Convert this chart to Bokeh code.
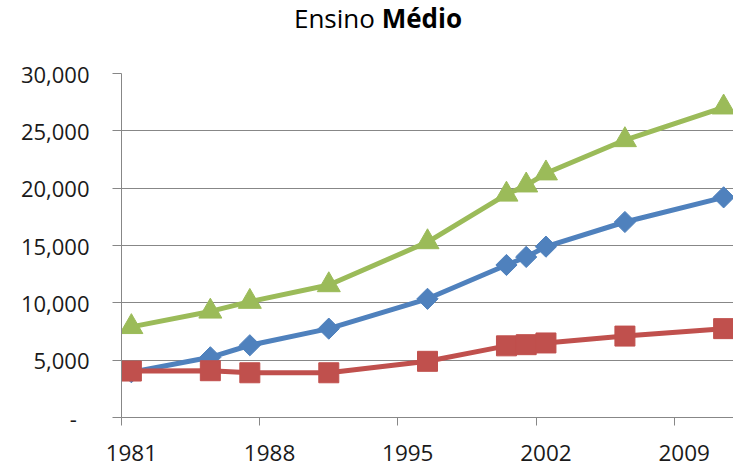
import math
from bokeh.plotting import figure
from bokeh.layouts import column
from bokeh.models import (Range1d, FixedTicker, LinearAxis, NumeralTickFormatter, Div)
from bokeh.embed import file_html
from bokeh.resources import INLINE

# ---- data ----
years = [1981, 1985, 1987, 1991, 1996, 2000, 2001, 2002, 2006, 2011]
serie_azul = [3950, 5250, 6300, 7750, 10350, 13300, 14000, 14900, 17050, 19200]
serie_vermelha = [4050, 4080, 3900, 3900, 4900, 6250, 6350, 6500, 7100, 7750]
serie_verde = [7900, 9250, 10100, 11550, 15300, 19450, 20250, 21300, 24200, 27050]

x_tick_marks = [1980.5, 1987.5, 1994.5, 2001.5, 2008.5]
x_label_years = [1981, 1988, 1995, 2002, 2009]
x_tick_labels = ["1981", "1988", "1995", "2002", "2009"]
y_ticks = [0, 5000, 10000, 15000, 20000, 25000, 30000]

title_parts = ["Ensino", "Médio"]

FONT = "Open Sans"
GRID = "#878787"
BLUE = "#4F81BD"
RED = "#C0504D"
GREEN = "#9BBB59"

TITLE_H = 40

title = Div(
    text=(f'<div style="position:absolute;left:0;top:2px;width:756px;text-align:center;'
          f'font-family:\'{FONT}\';font-size:26px;color:black;white-space:nowrap;line-height:1.3;">'
          f'{title_parts[0]} <b>{title_parts[1]}</b></div>'),
    width=733, height=TITLE_H, margin=(0, 0, 0, 0),
    styles={"position": "relative", "overflow": "visible"})

p = figure(width=733, height=470 - TITLE_H, output_backend="svg", toolbar_location=None,
           x_range=Range1d(1980.5, 2011.5), y_range=Range1d(0, 30000),
           min_border_left=121, min_border_right=0, min_border_top=73 - TITLE_H,
           min_border_bottom=53, margin=(0, 0, 0, 0))
p.outline_line_color = None
p.background_fill_color = "white"
p.border_fill_color = "white"

# y axis
ya = p.yaxis[0]
ya.ticker = FixedTicker(ticks=y_ticks)
ya.formatter = NumeralTickFormatter(format="0,0")
ya.major_label_overrides = {0: "-\u2007"}
ya.major_tick_out = 9
ya.major_tick_in = 0
ya.minor_tick_out = 0
ya.minor_tick_in = 0
ya.axis_line_color = GRID
ya.major_tick_line_color = GRID
ya.major_label_standoff = 23
ya.major_label_text_font = FONT
ya.major_label_text_font_size = "22px"
ya.major_label_text_color = "#1a1a1a"

p.ygrid.ticker = FixedTicker(ticks=y_ticks)
p.ygrid.grid_line_color = GRID
p.ygrid.grid_line_width = 1
p.xgrid.grid_line_color = None

# x axis: tick marks only (between-year positions)
xa = p.xaxis[0]
xa.ticker = FixedTicker(ticks=x_tick_marks)
xa.major_label_overrides = {t: "" for t in x_tick_marks}
xa.major_label_text_font_size = "1px"
xa.major_label_standoff = 0
xa.major_tick_out = 8
xa.major_tick_in = 0
xa.minor_tick_out = 0
xa.minor_tick_in = 0
xa.axis_line_color = GRID
xa.major_tick_line_color = GRID

# x axis: labels centred on the years
xl = LinearAxis(ticker=FixedTicker(ticks=x_label_years),
                major_label_overrides={y: s for y, s in zip(x_label_years, x_tick_labels)})
xl.axis_line_color = None
xl.major_tick_out = 0
xl.major_tick_in = 0
xl.minor_tick_out = 0
xl.minor_tick_in = 0
xl.major_label_standoff = 19
xl.major_label_text_font = FONT
xl.major_label_text_font_size = "22.5px"
xl.major_label_text_color = "#1a1a1a"
p.add_layout(xl, "below")

# series
LW = 5
p.line(years, serie_azul, line_color=BLUE, line_width=LW, line_join="round", line_cap="round")
p.scatter(years, serie_azul, marker="square", angle=math.pi / 4, size=15,
          fill_color=BLUE, line_color=BLUE)
p.line(years, serie_vermelha, line_color=RED, line_width=LW, line_join="round", line_cap="round")
p.scatter(years, serie_vermelha, marker="square", size=20,
          fill_color=RED, line_color=RED)
p.line(years, serie_verde, line_color=GREEN, line_width=LW, line_join="round", line_cap="round")
p.scatter(years, serie_verde, marker="triangle", size=23,
          fill_color=GREEN, line_color=GREEN)

layout = column(title, p, spacing=0, margin=(0, 0, 0, 0))
open("out.html", "w").write(file_html(layout, INLINE))
